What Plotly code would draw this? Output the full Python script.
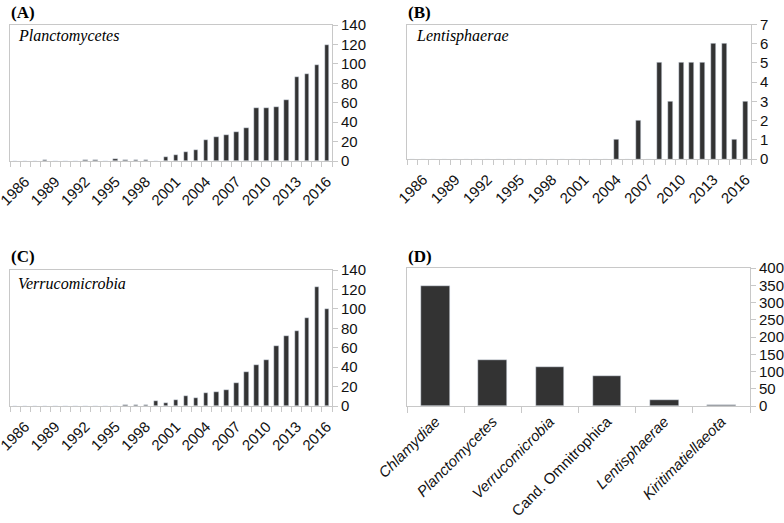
import plotly.graph_objects as go

years = list(range(1985, 2017))

plancto = [0, 0, 0, 1, 0, 0, 0, 1, 1, 0, 2, 1, 1, 1, 0,
           4, 6, 9, 11, 22, 25, 27, 30, 34, 55, 55, 56, 63, 86, 90, 99, 119]
lentis = [0]*19 + [1, 0, 2, 0, 5, 3, 5, 5, 5, 6, 6, 1, 3]
verruco = [0]*11 + [1, 1, 1, 5, 3, 6, 10, 8, 13, 14, 16, 24, 35, 42, 47, 62, 72, 77, 91, 122, 100]

phyla = ["Chlamydiae", "Planctomycetes", "Verrucomicrobia", "Cand. Omnitrophica",
         "Lentisphaerae", "Kiritimatiellaeota"]
phyla_labels = ["<i>Chlamydiae</i>", "<i>Planctomycetes</i>", "<i>Verrucomicrobia</i>",
                "Cand. Omnitrophica", "<i>Lentisphaerae</i>", "<i>Kiritimatiellaeota</i>"]
totals = [348, 132, 113, 86, 16, 2]

year_ticks = list(range(1986, 2017, 3))

W, H = 784, 523
BAR = "#333333"
GRID = "#c8c8c8"

def px_x(a, b):
    return [a / W, b / W]

def px_y(top, bottom):
    return [1 - bottom / H, 1 - top / H]

fig = go.Figure()
fig.add_trace(go.Bar(x=years, y=plancto, marker_color=BAR, width=0.45, xaxis="x", yaxis="y"))
fig.add_trace(go.Bar(x=years, y=lentis, marker_color=BAR, width=0.45, xaxis="x2", yaxis="y2"))
fig.add_trace(go.Bar(x=years, y=verruco, marker_color=BAR, width=0.45, xaxis="x3", yaxis="y3"))
fig.add_trace(go.Bar(x=phyla, y=totals, marker_color=BAR, width=0.5, xaxis="x4", yaxis="y4"))

sans = "Liberation Sans, Arial, sans-serif"
tickfont = dict(family=sans, size=15, color="#111")

def year_axis(domain, anchor):
    return dict(domain=domain, anchor=anchor, range=[1984.5, 2016.5], automargin=False,
                tickmode="array", tickvals=year_ticks, ticktext=[str(v) for v in year_ticks],
                tickangle=-45, ticks="", showgrid=False, zeroline=False,
                showline=True, linecolor=GRID, linewidth=1, mirror=True,
                ticklabeloverflow="allow", ticklabelstandoff=5,
                tickfont=dict(family=sans, size=15, color="#111"),
                minor=dict(ticks="outside", tick0=1984.5, dtick=1, ticklen=5,
                           tickcolor=GRID, showgrid=False))

def val_axis(domain, anchor, rng, dtick):
    return dict(domain=domain, anchor=anchor, side="right", range=rng, dtick=dtick,
                automargin=False, ticklabeloverflow="allow",
                ticks="outside", ticklen=5, tickcolor=GRID, showgrid=False,
                zeroline=False, showline=True, linecolor=GRID, linewidth=1, mirror=True,
                tickfont=tickfont)

fig.update_layout(
    width=W, height=H, margin=dict(l=0, r=0, t=0, b=0, autoexpand=False),
    paper_bgcolor="white", plot_bgcolor="white", showlegend=False, bargap=0,
    xaxis=year_axis(px_x(10, 332), "y"),
    yaxis=val_axis(px_y(25, 161), "x", [0, 140], 20),
    xaxis2=year_axis(px_x(407, 751), "y2"),
    yaxis2=val_axis(px_y(24.5, 159), "x2", [0, 7], 1),
    xaxis3=year_axis(px_x(10, 332), "y3"),
    yaxis3=val_axis(px_y(270, 406), "x3", [0, 140], 20),
    xaxis4=dict(domain=px_x(407, 750), anchor="y4", tickmode="array", tickvals=phyla,
                ticktext=phyla_labels, tickangle=-45, ticks="outside", tickson="boundaries",
                ticklen=6, tickcolor=GRID, showgrid=False, showline=True, linecolor=GRID,
                mirror=True, tickfont=dict(family=sans, size=15, color="#111"),
                automargin=False, ticklabeloverflow="allow"),
    yaxis4=val_axis(px_y(268, 406), "x4", [0, 400], 50),
)

serif = "Liberation Serif, Times New Roman, serif"
def ann(x, y, text, size, bold=False, italic=False):
    t = text
    if italic:
        t = "<i>" + t + "</i>"
    if bold:
        t = "<b>" + t + "</b>"
    fig.add_annotation(x=x / W, y=1 - y / H, xref="paper", yref="paper", text=t,
                       showarrow=False, xanchor="left", yanchor="middle",
                       font=dict(family=serif, size=size, color="#000"))

ann(9, 12, "(A)", 17, bold=True)
ann(406, 12, "(B)", 17, bold=True)
ann(9, 256, "(C)", 17, bold=True)
ann(406, 256, "(D)", 17, bold=True)
ann(16, 36, "Planctomycetes", 16, italic=True)
ann(414, 36, "Lentisphaerae", 16, italic=True)
ann(16, 283, "Verrucomicrobia", 16, italic=True)

fig.write_html("out.html", config={"displayModeBar": False},
               post_script="document.body.style.margin='0px';")
